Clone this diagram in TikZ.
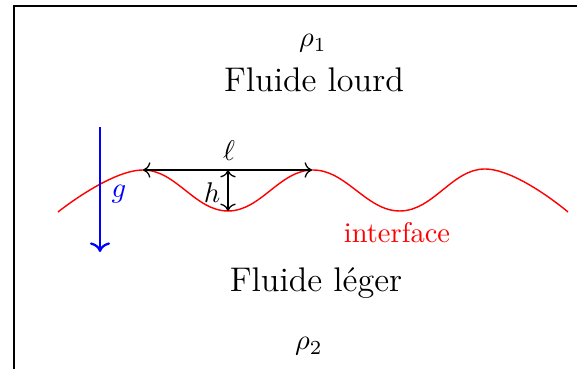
\documentclass[tikz,border=0pt]{standalone}
\usetikzlibrary{arrows.meta}
\begin{document}
\begin{tikzpicture}[x=0.351pt,y=-0.351pt,
  frame/.style={line width=0.8pt},
  wave/.style={red, line width=0.5pt},
  dimarrow/.style={<->, line width=0.45pt},
  gravity/.style={->, blue, line width=0.8pt},
  lbl/.style={inner sep=0pt}]
\useasboundingbox (0,0) rectangle (577,369);
\draw[frame] (14,369) -- (14,6) -- (577,6);
% interface
\draw[wave] plot[smooth, tension=0.7] coordinates {(58,212) (143,170) (228,211) (313,170) (400,211) (485,169) (568,212)};
% dimensions
\coordinate (c1) at (143,170);
\coordinate (c2) at (312,170);
\coordinate (m) at (228,170);
\coordinate (t1) at (228,211);
\draw[dimarrow] (c1) -- (c2);
\draw[dimarrow] (m) -- (t1);
\node[lbl] (ell) at (229,151) {$\ell$};
\node[lbl] (h) at (212,193) {$h$};
% gravity
\coordinate (gtop) at (100,127);
\coordinate (gbot) at (100,252);
\draw[gravity] (gtop) -- (gbot);
\node[lbl, blue] (g) at (119,194) {$g$};
% labels
\node[lbl, red, anchor=base] (iface) at (397,243) {interface};
\node[lbl, anchor=base] (rho1) at (313,47) {$\rho_1$};
\node[lbl, anchor=base] (lourd) at (314,92) {\large Fluide lourd};
\node[lbl, anchor=base] (leger) at (316,292) {\large Fluide léger};
\node[lbl, anchor=base] (rho2) at (309,350) {$\rho_2$};
\end{tikzpicture}
\end{document}
